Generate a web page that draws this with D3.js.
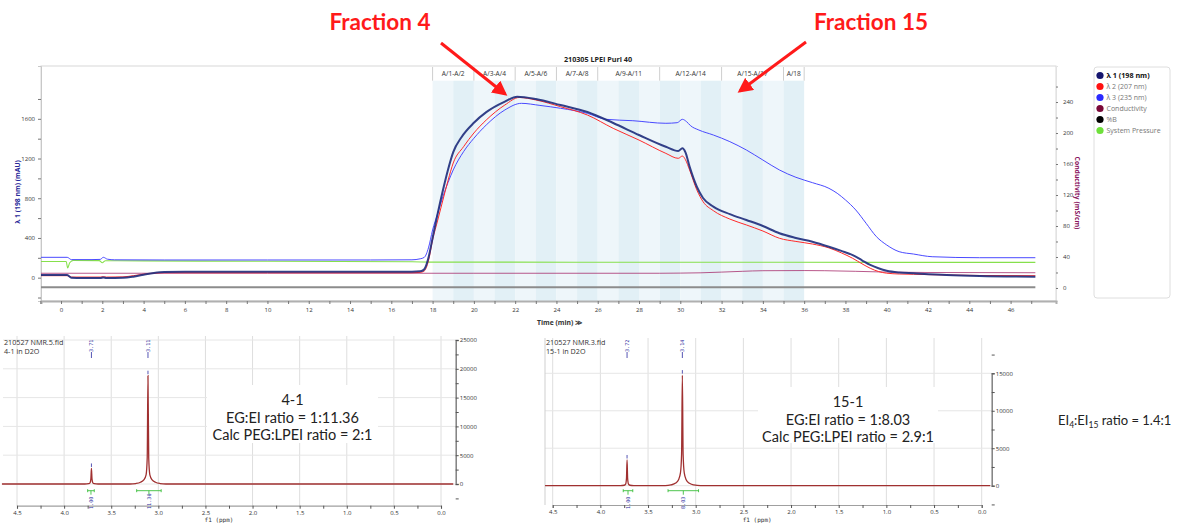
<!DOCTYPE html>
<html><head><meta charset="utf-8">
<script src="https://cdn.jsdelivr.net/npm/d3@7"></script>
<style>
body{margin:0;background:#fff;}
svg{display:block;}
text{font-family:"Open Sans",sans-serif;}
.call{font-family:Lato,"Open Sans",sans-serif;}
.mono{font-family:"DejaVu Sans Mono",monospace;}
</style>
</head><body>
<svg id="c" width="1178" height="523"></svg>
<script>
// ---------------- DATA ----------------
// Chromatogram (time in min)
const lambda1 = [[-1,28],[0.3,28],[0.5,-2],[1,-4],[1.9,-4],[2.05,2],[2.2,-4],[3,-2],[3.5,10],[4,30],[4.5,48],[5,58],[6,60],[10,60],[14,60],[17,60],[17.4,64],[17.6,85],[17.8,200],[18,400],[18.25,650],[18.5,880],[18.75,1090],[19,1265],[19.4,1415],[20,1560],[20.6,1667],[21.5,1773],[22.1,1823],[23,1800],[24.2,1739],[25.5,1669],[26.75,1558],[28,1437],[29.3,1319],[29.9,1276],[30.1,1303],[30.25,1262],[30.45,1118],[30.8,916],[31.1,803],[31.6,716],[32.4,640],[33.2,581],[34,520],[34.8,447],[35.6,400],[36.4,362],[37.2,312],[37.8,270],[38.35,228],[38.8,175],[39.2,128],[39.6,95],[40,70],[40.6,52],[41.3,44],[42.9,27],[44.5,17],[47.2,10]];
const lambda2 = [[-1,20],[0.3,20],[0.5,6],[1.9,6],[2.05,10],[2.2,6],[3,8],[3.5,20],[4,35],[4.5,45],[5,50],[10,50],[17,50],[17.4,53],[17.6,68],[17.8,170],[18,380],[18.25,580],[18.5,782],[18.75,980],[19,1155],[19.5,1319],[20,1457],[20.6,1588],[21.5,1739],[22.2,1815],[23,1790],[24.2,1722],[25.5,1638],[26.75,1504],[28,1386],[29.3,1252],[29.9,1202],[30.1,1225],[30.25,1188],[30.45,1085],[30.8,884],[31.1,766],[31.6,675],[32.4,590],[33.2,531],[34,470],[34.8,397],[35.6,365],[36.4,339],[37.2,300],[37.8,250],[38.35,195],[38.8,140],[39.2,95],[39.6,62],[40,45],[40.6,37],[41.3,34],[42.9,27],[44.5,22],[47.2,20]];
const lambda3 = [[-1,205],[0.3,205],[0.5,182],[1.5,182],[1.9,184],[2.05,205],[2.25,186],[2.6,180],[5,178],[10,178],[15,178],[17,180],[17.4,190],[17.6,205],[17.8,300],[18,480],[18.25,650],[18.5,816],[18.75,960],[19,1085],[19.5,1269],[20,1404],[20.6,1538],[21.5,1689],[22.3,1756],[23.2,1735],[24.2,1706],[25.5,1655],[26.4,1595],[27.7,1581],[29.3,1555],[29.85,1561],[30.1,1595],[30.3,1572],[30.5,1530],[30.9,1487],[31.6,1437],[32.4,1370],[33.2,1286],[34,1185],[34.8,1085],[35.6,1011],[36.4,957],[37.2,900],[37.6,850],[38,783],[38.5,682],[39,548],[39.5,413],[40,329],[40.6,262],[41.3,238],[42.2,211],[44.5,201],[47.2,201]];
const conductivity = [[-1,19],[10,19],[20,19],[29,19],[30,19.2],[31,19.6],[32,20.5],[33,21.5],[34,22.3],[36,22.5],[37,22.3],[38.5,21.5],[40,20.5],[42,20],[47.2,19.7]];
const percentB = [[-1,0],[47.2,0]];
const pressureMPa = [[-1,0.163],[0.25,0.163],[0.32,0.098],[0.42,0.15],[0.6,0.174],[1.85,0.172],[2.0,0.15],[2.15,0.171],[4,0.169],[10,0.165],[17,0.16],[18,0.157],[25,0.156],[35,0.155],[47.2,0.154]];

const fractionStart = [18,19,20,21,22,23,24,25,26,27,28,29,30,31,32,33,34,35];
const fractionGroups = ["A/1-A/2","A/3-A/4","A/5-A/6","A/7-A/8","A/9-A/11","A/12-A/14","A/15-A/17","A/18"];
const fractionGroupStart = [18,20,22,24,26,29,32,35];
const fractionGroupEnd   = [20,22,24,26,29,32,35,36];

const timeTicks = [-1,0,1,2,3,4,5,6,7,8,9,10,11,12,13,14,15,16,17,18,19,20,21,22,23,24,25,26,27,28,29,30,31,32,33,34,35,36,37,38,39,40,41,42,43,44,45,46,47];
const uvTicks = [-200,0,200,400,600,800,1000,1200,1400,1600,1800];
const uvLabels = [0,400,800,1200,1600];
const condTicks = [0,20,40,60,80,100,120,140,160,180,200,220,240,260];
const condLabels = [0,40,80,120,160,200,240];

const legendNames = ["λ 1 (198 nm)","λ 2 (207 nm)","λ 3 (235 nm)","Conductivity","%B","System Pressure"];
const legendColors = ["#15156e","#ff1010","#2a2aff","#7a0838","#000000","#6ee03a"];

// NMR spectra (ppm, intensity)
const nmr4Ppm = [4.66,3.78,3.74,3.725,3.716,3.71,3.704,3.695,3.68,3.64,3.30,3.24,3.19,3.155,3.13,3.118,3.11,3.102,3.09,3.065,3.03,2.98,2.92,-0.13];
const nmr4Int = [0,0,60,200,900,2700,900,200,60,0,0,80,300,700,1600,4500,18800,4500,1600,700,300,80,0,0];
const nmr15Ppm = [4.58,3.79,3.75,3.735,3.726,3.72,3.714,3.705,3.69,3.65,3.32,3.26,3.21,3.18,3.16,3.148,3.14,3.132,3.12,3.10,3.07,3.02,2.95,-0.09];
const nmr15Int = [0,0,60,220,1000,3430,1000,220,60,0,0,100,350,800,1700,4200,14760,4200,1700,800,350,100,0,0];
const nmr4Peaks = [3.71,3.11], nmr4PeakH = [2700,18800], nmr4PeakLabels = ["3.71","3.11"];
const nmr15Peaks = [3.72,3.14], nmr15PeakH = [3430,14760], nmr15PeakLabels = ["3.72","3.14"];
const nmr4IntRanges = [[3.75,3.68],[3.23,2.97]], nmr4IntLabels = ["1.00","11.36"];
const nmr15IntRanges = [[3.76,3.66],[3.29,2.97]], nmr15IntLabels = ["1.00","8.03"];
const ppmTicks = [4.5,4.25,4.0,3.75,3.5,3.25,3.0,2.75,2.5,2.25,2.0,1.75,1.5,1.25,1.0,0.75,0.5,0.25,0.0];
const ppmLabels = [4.5,4.0,3.5,3.0,2.5,2.0,1.5,1.0,0.5,0.0];

// ---------------- DRAW ----------------
const svg = d3.select("#c");
svg.append("rect").attr("width",1178).attr("height",523).attr("fill","#fff");

const X0=41, X1=1056, YT=66, YB=301, YH=80.7;
const x = d3.scaleLinear([-0.97,48.2],[X0,X1]);
const yL = d3.scaleLinear([-235,2132],[YB,YT]);
const yR = d3.scaleLinear([-16.8,286.5],[YB,YT]);
const yP = d3.scaleLinear([-0.235,2.132],[YB,YT]);
const yB = d3.scaleLinear([0,100],[287.3,66]);

// frame
svg.append("rect").attr("x",X0).attr("y",YT).attr("width",X1-X0).attr("height",YB-YT)
  .attr("fill","none").attr("stroke","#d8d8d8");

// fraction stripes
svg.append("g").selectAll("rect").data(fractionStart).join("rect")
  .attr("x",d=>x(d)).attr("width",d=>x(d+1)-x(d))
  .attr("y",YH).attr("height",YB-YH)
  .attr("fill",(d,i)=> i%2===0 ? "#eef6fa" : "#e2f0f6");

// fraction header
const hdr = svg.append("g");
hdr.selectAll("line").data(fractionGroupStart.concat([36])).join("line")
  .attr("x1",d=>x(d)).attr("x2",d=>x(d)).attr("y1",YT+1).attr("y2",YH)
  .attr("stroke","#cfcfcf");
hdr.selectAll("text").data(fractionGroups).join("text")
  .attr("x",(d,i)=>(x(fractionGroupStart[i])+x(fractionGroupEnd[i]))/2)
  .attr("y",76).attr("text-anchor","middle").attr("font-size",6.6).attr("fill","#333")
  .text(d=>d);

// title
svg.append("text").attr("x",598).attr("y",62).attr("text-anchor","middle")
  .attr("font-size",7.2).attr("font-weight","bold").attr("fill","#222").text("210305 LPEI Puri 40");

// axes
const axL = svg.append("g").attr("transform",`translate(${X0},0)`)
  .call(d3.axisLeft(yL).tickValues(uvTicks).tickSize(3).tickPadding(3)
    .tickFormat(d=> uvLabels.includes(d) ? d : ""));
const axR = svg.append("g").attr("transform",`translate(${X1},0)`)
  .call(d3.axisRight(yR).tickValues(condTicks).tickSize(2).tickPadding(5)
    .tickFormat(d=> condLabels.includes(d) ? d : ""));
const axB = svg.append("g").attr("transform",`translate(0,${YB})`)
  .call(d3.axisBottom(x).tickValues(timeTicks).tickSize(3).tickPadding(4)
    .tickFormat(d=> (d>=0 && d%2===0) ? d : ""));
[axL,axR,axB].forEach(a=>{
  a.selectAll("text").attr("font-size",6).attr("fill","#333").attr("font-family","Open Sans");
  a.selectAll(".tick line").attr("stroke","#777");
});
axL.select(".domain").attr("stroke","#c8c8c8");
axR.select(".domain").attr("stroke","#e2e2e2");
axB.select(".domain").attr("stroke","#b0b0b0").attr("stroke-width",2);

svg.append("text").attr("transform","translate(20,192) rotate(-90)").attr("text-anchor","middle")
  .attr("font-size",6.8).attr("font-weight","bold").attr("fill","#2a2a9a").text("λ 1 (198 nm) (mAU)");
svg.append("text").attr("transform","translate(1075,193) rotate(90)").attr("text-anchor","middle")
  .attr("font-size",6.8).attr("font-weight","bold").attr("fill","#8a1460").text("Conductivity (mS/cm)");
svg.append("text").attr("x",537).attr("y",325).attr("font-size",6.8).attr("font-weight","bold")
  .attr("fill","#333").text("Time (min) ≫");

// lines
svg.append("clipPath").attr("id","plotclip").append("rect")
  .attr("x",X0).attr("y",YT).attr("width",X1-X0).attr("height",YB-YT);
const plot = svg.append("g").attr("clip-path","url(#plotclip)");
const mk = ys => d3.line().x(d=>x(d[0])).y(d=>ys(d[1])).curve(d3.curveMonotoneX);
plot.append("path").attr("d",mk(yB)(percentB)).attr("fill","none").attr("stroke","#8c8c8c").attr("stroke-width",2);
plot.append("path").attr("d",mk(yR)(conductivity)).attr("fill","none").attr("stroke","#a8306e").attr("stroke-width",1).attr("opacity",0.8);
plot.append("path").attr("d",mk(yP)(pressureMPa)).attr("fill","none").attr("stroke","#86e04c").attr("stroke-width",1.1);
plot.append("path").attr("d",mk(yL)(lambda3)).attr("fill","none").attr("stroke","#4a4aff").attr("stroke-width",1);
plot.append("path").attr("d",mk(yL)(lambda2)).attr("fill","none").attr("stroke","#ff2a2a").attr("stroke-width",1);
plot.append("path").attr("d",mk(yL)(lambda1)).attr("fill","none").attr("stroke","#22307e").attr("stroke-width",2).attr("opacity",0.92);

// legend
svg.append("rect").attr("x",1094).attr("y",67).attr("width",76).attr("height",231).attr("rx",3)
  .attr("fill","#fff").attr("stroke","#dedede");
const lg = svg.append("g").selectAll("g").data(legendNames).join("g")
  .attr("transform",(d,i)=>`translate(1100,${75.5+i*11})`);
lg.append("circle").attr("r",3.6).attr("fill",(d,i)=>legendColors[i]);
lg.append("text").attr("x",6.5).attr("y",2.4).attr("font-size",(d,i)=>i===0?7.2:7)
  .attr("font-weight",(d,i)=>i===0?"bold":"normal")
  .attr("fill",(d,i)=>i===0?"#111":"#777").text(d=>d);

// red annotations
svg.append("defs").append("marker").attr("id","ah").attr("viewBox","0 0 10 10")
  .attr("refX",8).attr("refY",5).attr("markerWidth",5).attr("markerHeight",5)
  .attr("orient","auto").append("path").attr("d","M0,0L10,5L0,10z").attr("fill","#ff1a1a");
svg.append("text").attr("class","call").attr("x",380).attr("y",30).attr("text-anchor","middle")
  .attr("font-size",22.5).attr("font-weight","bold").attr("fill","#ff1a1a").text("Fraction 4");
svg.append("text").attr("class","call").attr("x",871).attr("y",30).attr("text-anchor","middle")
  .attr("font-size",22.5).attr("font-weight","bold").attr("fill","#ff1a1a").text("Fraction 15");
svg.append("line").attr("x1",441).attr("y1",43).attr("x2",505).attr("y2",94)
  .attr("stroke","#ff1a1a").attr("stroke-width",3).attr("marker-end","url(#ah)");
svg.append("line").attr("x1",806).attr("y1",42).attr("x2",740).attr("y2",91)
  .attr("stroke","#ff1a1a").attr("stroke-width",3).attr("marker-end","url(#ah)");

// ---------------- NMR panels ----------------
function nmrPanel(cfg){
  const g = svg.append("g");
  const cid = "clip"+cfg.id;
  svg.append("clipPath").attr("id",cid).append("rect")
    .attr("x",cfg.left-2).attr("y",cfg.top).attr("width",cfg.axisX-cfg.left+40).attr("height",523-cfg.top);
  g.attr("clip-path",`url(#${cid})`);
  const xs = cfg.x, ys = cfg.y;
  // grid
  g.append("g").selectAll("line").data(ppmLabels).join("line")
    .attr("x1",d=>xs(d)).attr("x2",d=>xs(d)).attr("y1",cfg.top).attr("y2",cfg.bottom)
    .attr("stroke","#dedede");
  g.append("g").selectAll("line").data(cfg.gridY).join("line")
    .attr("x1",cfg.left).attr("x2",cfg.axisX).attr("y1",d=>ys(d)).attr("y2",d=>ys(d))
    .attr("stroke","#e6e6e6");
  if(cfg.leftLine) g.append("line").attr("x1",cfg.left).attr("x2",cfg.left).attr("y1",cfg.top).attr("y2",cfg.bottom).attr("stroke","#cfcfcf");
  // header text
  g.append("text").attr("x",cfg.left+1).attr("y",345).attr("font-size",7.2).attr("fill","#333").text(cfg.file);
  g.append("text").attr("x",cfg.left+1).attr("y",354).attr("font-size",7.2).attr("fill","#333").text(cfg.sample);
  // annotation box
  g.append("rect").attr("x",cfg.box[0]).attr("y",cfg.box[1]).attr("width",cfg.box[2]).attr("height",cfg.box[3]).attr("fill","#fff");
  const bx = cfg.box[0]+cfg.box[2]/2;
  cfg.lines.forEach((t,i)=>{
    g.append("text").attr("class","call").attr("x",bx).attr("y",cfg.box[1]+20+i*17.5)
      .attr("text-anchor","middle").attr("font-size",14.5).attr("fill","#222").text(t);
  });
  // spectrum
  const pts = cfg.ppm.map((p,i)=>[p,cfg.inten[i]]);
  g.append("path").attr("d",d3.line().x(d=>xs(d[0])).y(d=>ys(d[1])).curve(d3.curveMonotoneX)(pts.slice().sort((a,b)=>b[0]-a[0])))
    .attr("fill","none").attr("stroke","#a03030").attr("stroke-width",1.3);
  // peak labels
  cfg.peaks.forEach((p,i)=>{
    const px = xs(p);
    g.append("text").attr("transform",`translate(${px+1.8},352) rotate(-90)`).attr("font-size",5.2)
      .attr("class","mono").attr("fill","#2a2aa0").text(cfg.peakLabels[i]);
    g.append("line").attr("x1",px).attr("x2",px).attr("y1",352).attr("y2",358).attr("stroke","#2a2aa0").attr("stroke-width",0.8);
    g.append("line").attr("x1",px).attr("x2",px).attr("y1",ys(cfg.peakH[i])-5).attr("y2",ys(cfg.peakH[i])-1.5).attr("stroke","#2a2aa0").attr("stroke-width",0.8);
  });
  // integrals
  cfg.intRanges.forEach((r,i)=>{
    const a = xs(r[0]), b = xs(r[1]), yy = 490.7, m=(a+b)/2;
    g.append("line").attr("x1",a).attr("x2",b).attr("y1",yy).attr("y2",yy).attr("stroke","#3cbf3c").attr("stroke-width",0.9);
    g.append("line").attr("x1",a).attr("x2",a).attr("y1",yy-1.5).attr("y2",yy+1.5).attr("stroke","#3cbf3c").attr("stroke-width",0.9);
    g.append("line").attr("x1",b).attr("x2",b).attr("y1",yy-1.5).attr("y2",yy+1.5).attr("stroke","#3cbf3c").attr("stroke-width",0.9);
    g.append("line").attr("x1",m).attr("x2",m).attr("y1",yy).attr("y2",yy+4).attr("stroke","#3cbf3c").attr("stroke-width",0.9);
    g.append("text").attr("transform",`translate(${m+1.8},${509}) rotate(-90)`).attr("font-size",5.2)
      .attr("class","mono").attr("fill","#2a2aa0").text(cfg.intLabels[i]);
  });
  // axes
  const ay = g.append("g").attr("transform",`translate(${cfg.axisX},0)`)
    .call(d3.axisRight(ys).tickValues(cfg.yTicks).tickSize(3).tickPadding(1)
      .tickFormat(d=> d%5000===0 ? d : ""));
  ay.select(".domain").attr("stroke","#808080").attr("stroke-width",1.5);
  const ax = g.append("g").attr("transform",`translate(0,${cfg.bottom})`)
    .call(d3.axisBottom(xs).tickValues(ppmTicks).tickSize(3).tickPadding(2)
      .tickFormat(d=> ppmLabels.includes(d) ? d.toFixed(1) : ""));
  ax.select(".domain").attr("stroke","#a0a0a0").attr("stroke-width",1.2);
  [ax,ay].forEach(a=>{
    a.selectAll("text").attr("font-size",6).attr("fill","#333").attr("font-family","DejaVu Sans Mono");
    a.selectAll(".tick line").attr("stroke","#555");
  });
  g.append("text").attr("x",cfg.x((cfg.x.domain()[0]+cfg.x.domain()[1])/2)-10).attr("y",521.5).attr("font-size",6)
    .attr("class","mono").attr("fill","#333").attr("text-anchor","middle").text("f1 (ppm)");
}

nmrPanel({id:"a", left:3, top:336, bottom:505.7, axisX:455.7,
  x:d3.scaleLinear([4.5,0],[17,441]), y:d3.scaleLinear([0,25000],[484,340]),
  gridY:[0,5000,10000,15000,20000,25000],
  yTicks:[-2500,0,2500,5000,7500,10000,12500,15000,17500,20000,22500,25000],
  file:"210527 NMR.5.fid", sample:"4-1 in D2O",
  box:[207,385,171,58], lines:["4-1","EG:EI ratio = 1:11.36","Calc PEG:LPEI ratio = 2:1"],
  ppm:nmr4Ppm, inten:nmr4Int, peaks:nmr4Peaks, peakH:nmr4PeakH, peakLabels:nmr4PeakLabels,
  intRanges:nmr4IntRanges, intLabels:nmr4IntLabels, leftLine:false});

nmrPanel({id:"b", left:545, top:338, bottom:505, axisX:991.7,
  x:d3.scaleLinear([4.5,0],[552.7,981.7]), y:d3.scaleLinear([0,15000],[485.7,373.3]),
  gridY:[0,5000,10000,15000],
  yTicks:[-2500,0,2500,5000,7500,10000,12500,15000,17500,20000],
  file:"210527 NMR.3.fid", sample:"15-1 in D2O",
  box:[758,387,180,56], lines:["15-1","EG:EI ratio = 1:8.03","Calc PEG:LPEI ratio = 2.9:1"],
  ppm:nmr15Ppm, inten:nmr15Int, peaks:nmr15Peaks, peakH:nmr15PeakH, peakLabels:nmr15PeakLabels,
  intRanges:nmr15IntRanges, intLabels:nmr15IntLabels, leftLine:true});

// ratio text
const rt = svg.append("text").attr("class","call").attr("x",1058).attr("y",425).attr("font-size",13).attr("fill","#222");
rt.append("tspan").text("EI");
rt.append("tspan").attr("font-size",8.5).attr("dy",3).text("4");
rt.append("tspan").attr("dy",-3).text(":EI");
rt.append("tspan").attr("font-size",8.5).attr("dy",3).text("15");
rt.append("tspan").attr("dy",-3).text(" ratio = 1.4:1");
</script>
</body></html>
